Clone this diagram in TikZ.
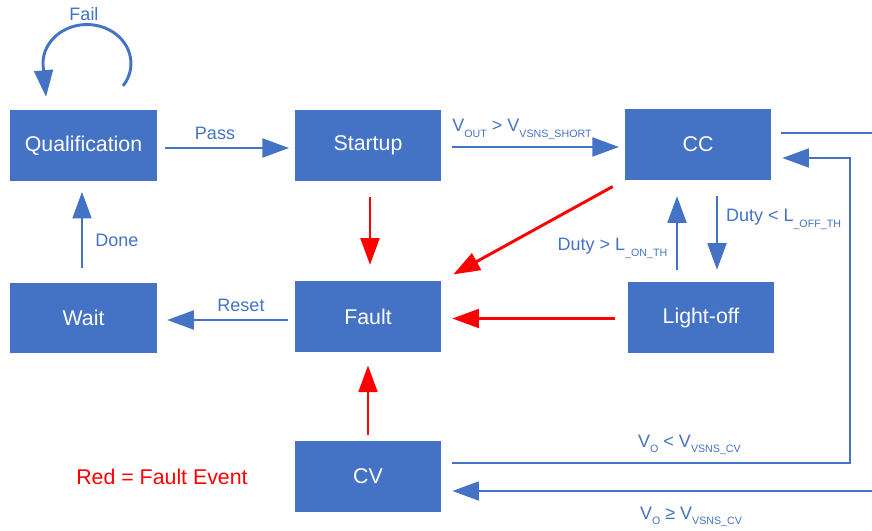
\documentclass[tikz,border=0pt]{standalone}
\usepackage{fontspec}
\setmainfont{Liberation Sans}
\usetikzlibrary{arrows.meta,calc,positioning}
\definecolor{boxblue}{HTML}{4472C4}
\definecolor{faultred}{HTML}{FF0000}
\newcommand{\lsub}[1]{\raisebox{-4.3pt}{\fontsize{8}{9}\selectfont #1}}
\tikzset{
  state/.style={fill=boxblue,text=white,font=\fontsize{16}{19}\selectfont,
    minimum width=110pt,minimum height=53pt,inner sep=0pt},
  wire/.style={line width=2.2pt,draw=boxblue},
  arr/.style={wire,-{Triangle[length=20pt,width=14pt]}},
  redarr/.style={arr,draw=faultred},
  lbl/.style={font=\fontsize{13.5}{16}\selectfont,text=boxblue,inner sep=1pt},
  sublbl/.style={lbl,anchor=base},
  legend/.style={font=\fontsize{16}{19}\selectfont,text=faultred},
}
\begin{document}
\begin{tikzpicture}[x=0.75pt,y=-0.75pt]
  \useasboundingbox (0,0) rectangle (872,531);
  % states
  \node[state] (qual) at (83.5,145.5) {Qualification};
  \node[state] (startup) at (368,145.5) {Startup};
  \node[state] (cc) at (698,144.5) {CC};
  \node[state] (wait) at (83.5,318) {Wait};
  \node[state] (fault) at (368,316.5) {Fault};
  \node[state] (lightoff) at (701,317.5) {Light-off};
  \node[state] (cv) at (368,476.5) {CV};
  % free ends and corners on the right
  \coordinate (ccout) at (872,133);
  \coordinate (cvin) at (872,491);
  \coordinate (cvloop) at (850,463);
  \coordinate (ccloop) at (850,158);
  % blue transitions
  \draw[arr] ($(qual.north)+(39.5,-24)$) arc[start angle=35,end angle=-180,x radius=44,y radius=39]
    -- ($(qual.north)+(-37.5,-13)$);
  \draw[arr,shorten <=6pt,shorten >=4pt] ($(qual.east)+(0,2.5)$) -- ($(startup.west)+(0,2.5)$);
  \draw[arr,shorten <=8pt,shorten >=4pt] ($(startup.east)+(0,1.5)$) -- ($(cc.west)+(0,2.5)$);
  \draw[wire,shorten <=7pt] ($(cc.east)+(0,-11.5)$) -- (ccout);
  \draw[arr,shorten <=8pt,shorten >=8pt] ($(cv.east)+(0,-13.5)$) -- (cvloop) -- (ccloop)
    -- ($(cc.east)+(0,13.5)$);
  \draw[arr,shorten >=8pt] (cvin) -- ($(cv.east)+(0,14.5)$);
  \draw[arr,shorten <=9pt,shorten >=12pt] ($(lightoff.north)+(-24,0)$) -- ($(cc.south)+(-21,0)$);
  \draw[arr,shorten <=12pt,shorten >=9pt] ($(cc.south)+(19,0)$) -- ($(lightoff.north)+(16,0)$);
  \draw[arr,shorten <=5pt,shorten >=7.5pt] ($(fault.west)+(0,3.5)$) -- ($(wait.east)+(0,2)$);
  \draw[arr,shorten <=11pt,shorten >=8pt] ($(wait.north)+(-1.5,0)$) -- ($(qual.south)+(-1.5,0)$);
  % fault events
  \draw[redarr,shorten <=12pt,shorten >=12pt] ($(startup.south)+(2,0)$) -- ($(fault.north)+(2,0)$);
  \draw[redarr,shorten <=10pt,shorten >=10pt] (cc.south west) -- (fault.north east);
  \draw[redarr,shorten <=9pt,shorten >=8pt] ($(lightoff.west)+(0,1)$) -- ($(fault.east)+(0,2)$);
  \draw[redarr,shorten <=4.5pt,shorten >=10pt] (cv) -- (fault);
  % labels
  \node[lbl] (fail) at (84,14) {Fail};
  \node[lbl] (pass) at (215,133) {Pass};
  \node[sublbl] (short) at (522,132) {V\lsub{OUT} > V\lsub{VSNS\_SHORT}};
  \node[lbl] (reset) at (241,305) {Reset};
  \node[lbl] (done) at (117,240) {Done};
  \node[sublbl] (onth) at (612.5,250.5) {Duty > L\lsub{\_ON\_TH}};
  \node[sublbl] (offth) at (783.5,221.5) {Duty < L\lsub{\_OFF\_TH}};
  \node[sublbl] (cvlow) at (689.5,447) {V\lsub{O} < V\lsub{VSNS\_CV}};
  \node[sublbl] (cvhigh) at (691,519) {V\lsub{O} ≥ V\lsub{VSNS\_CV}};
  \node[legend] (key) at (162,477) {Red = Fault Event};
\end{tikzpicture}
\end{document}
